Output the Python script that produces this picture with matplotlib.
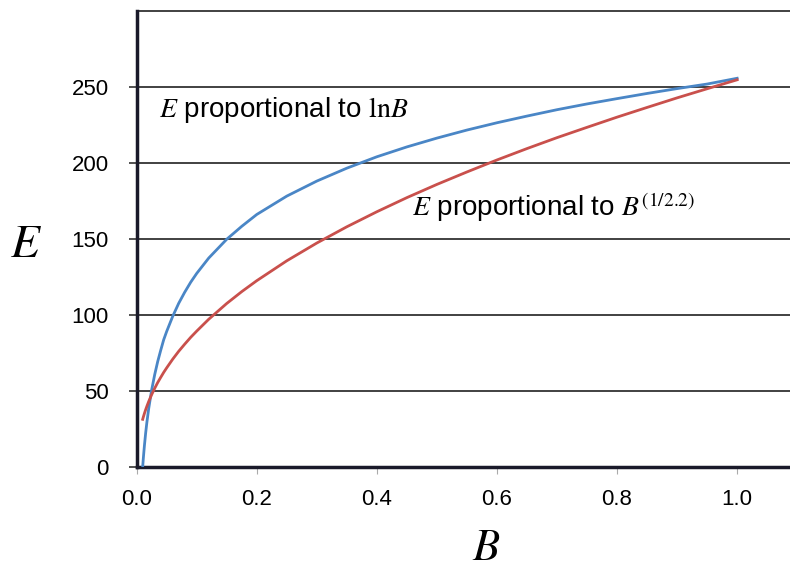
import matplotlib.pyplot as plt

plt.rcParams['font.family'] = ['Liberation Sans', 'DejaVu Sans']
plt.rcParams['mathtext.fontset'] = 'stix'

# values
B = [0.010, 0.011, 0.012, 0.013, 0.015, 0.017, 0.020, 0.025, 0.030, 0.035,
     0.040, 0.045, 0.050, 0.060, 0.070, 0.080, 0.090, 0.10, 0.12, 0.15,
     0.175, 0.20, 0.25, 0.30, 0.35, 0.40, 0.45, 0.50, 0.55, 0.60,
     0.65, 0.70, 0.75, 0.80, 0.85, 0.90, 0.95, 1.00]
E_log = [0, 5.3, 10.0, 14.5, 22.5, 29.4, 38.4, 50.8, 60.8, 69.4,
         76.8, 83.8, 89.3, 99.2, 107.8, 115.1, 121.7, 127.5, 137.6, 150.0,
         158.5, 166.3, 178.4, 188.3, 196.8, 204.3, 210.8, 216.6, 221.9, 226.7,
         231.1, 235.3, 239.1, 242.6, 246.0, 249.2, 252.2, 256.0]
E_pow = [31.4, 32.8, 34.1, 35.4, 37.8, 40.0, 43.1, 47.7, 51.8, 55.6,
         59.0, 62.3, 65.3, 71.0, 76.2, 80.9, 85.4, 89.5, 97.3, 107.7,
         115.5, 122.7, 135.8, 147.5, 158.2, 168.1, 177.4, 186.1, 194.3, 202.2,
         209.7, 216.9, 223.7, 230.4, 236.8, 243.1, 249.1, 255.0]

yticks = [0, 50, 100, 150, 200, 250]
xticks = [0.0, 0.2, 0.4, 0.6, 0.8, 1.0]

fig = plt.figure(figsize=(7.9, 5.73), dpi=100)
ax = fig.add_axes([0.173, 0.185, 0.827, 0.795])

for y in [50, 100, 150, 200, 250, 300]:
    ax.axhline(y, color='#333333', lw=1.3, zorder=1, clip_on=False)

ax.plot(B, E_log, color='#4a86c6', lw=2.0, zorder=3, solid_joinstyle='round')
ax.plot(B, E_pow, color='#c9504c', lw=2.0, zorder=3, solid_joinstyle='round')

ax.set_xlim(0, 1.088)
ax.set_ylim(0, 300)
ax.set_yticks(yticks)
ax.set_xticks(xticks)
ax.set_xticklabels(['%.1f' % v for v in xticks])
ax.tick_params(axis='y', length=6, width=1.2, pad=14, labelsize=16, color='#333333')
ax.tick_params(axis='x', length=5, width=0.8, pad=11, labelsize=16, color='#aaaaaa')

for s in ['top', 'right']:
    ax.spines[s].set_visible(False)
ax.spines['left'].set_linewidth(2.5)
ax.spines['bottom'].set_linewidth(2.5)
ax.spines['left'].set_color('#1a1a2a')
ax.spines['bottom'].set_color('#1a1a2a')

ax.text(0.038, 235, r'$E$ proportional to $\mathrm{ln}B$', fontsize=20, va='center')
ax.text(0.458, 171, r'$E$ proportional to $B^{\mathrm{(1/2.2)}}$', fontsize=20, va='center')

fig.text(0.033, 0.572, r'$E$', fontsize=34, ha='center', va='center')
fig.text(0.616, 0.042, r'$B$', fontsize=32, ha='center', va='center')

fig.savefig('out.png', dpi=100)
